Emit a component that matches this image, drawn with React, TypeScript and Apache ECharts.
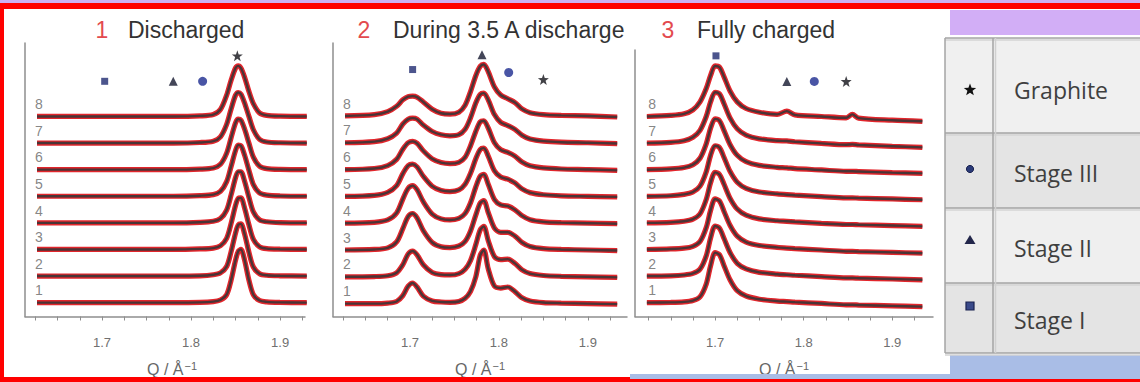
import React, { useEffect, useRef } from "react";
import * as echarts from "echarts";

const CURVE_NAMES = ["1", "2", "3", "4", "5", "6", "7", "8"];
const PANEL_NUMBERS = ["1", "2", "3"];
const PANEL_TITLES = ["Discharged", "During 3.5 A discharge", "Fully charged"];
const X_LABELS = [1.7, 1.8, 1.9];
const X_TICKS = [1.625, 1.65, 1.675, 1.7, 1.725, 1.75, 1.775, 1.8, 1.825, 1.85, 1.875, 1.9, 1.925];
const LEGEND_NAMES = ["Graphite", "Stage III", "Stage II", "Stage I"];
const MARK_KINDS = ["Stage I", "Stage II", "Stage III", "Graphite"];

// Panel 1: Discharged
const P1_Q = [1.627, 1.7, 1.78, 1.81, 1.825, 1.833, 1.84, 1.845, 1.85, 1.853, 1.856, 1.86, 1.865, 1.87, 1.877, 1.885, 1.9, 1.93];
const P1_I = [
  [0, 0, 0, 0.01, 0.04, 0.1, 0.3, 0.85, 1.6, 1.93, 2.0, 1.62, 0.85, 0.3, 0.08, 0.03, 0.01, 0],
  [0, 0, 0, 0.01, 0.05, 0.12, 0.36, 0.92, 1.62, 1.92, 1.96, 1.6, 0.9, 0.34, 0.09, 0.03, 0.01, 0],
  [0, 0, 0, 0.02, 0.05, 0.14, 0.42, 0.98, 1.66, 1.92, 1.94, 1.58, 0.93, 0.38, 0.1, 0.03, 0.01, 0],
  [0, 0, 0, 0.02, 0.06, 0.16, 0.48, 1.05, 1.7, 1.92, 1.92, 1.58, 0.96, 0.41, 0.11, 0.04, 0.01, 0],
  [0, 0, 0, 0.02, 0.06, 0.18, 0.55, 1.12, 1.72, 1.92, 1.9, 1.56, 0.98, 0.44, 0.12, 0.04, 0.01, 0],
  [0, 0, 0, 0.02, 0.06, 0.2, 0.62, 1.2, 1.76, 1.9, 1.86, 1.54, 1.0, 0.47, 0.13, 0.04, 0.01, 0],
  [0, 0, 0, 0.02, 0.07, 0.23, 0.7, 1.28, 1.8, 1.9, 1.84, 1.52, 1.0, 0.5, 0.14, 0.04, 0.01, 0],
  [0, 0, 0, 0.02, 0.07, 0.26, 0.8, 1.36, 1.82, 1.9, 1.82, 1.49, 0.94, 0.48, 0.13, 0.04, 0.01, 0],
];
const P1_MARKS = [[1.703, 8.32], [1.78, 8.32], [1.813, 8.32], [1.852, 9.28]];

// Panel 2: During 3.5 A discharge
const P2_Q = [1.627, 1.66, 1.675, 1.685, 1.692, 1.698, 1.703, 1.708, 1.715, 1.725, 1.735, 1.745, 1.755, 1.762, 1.768, 1.774, 1.779, 1.783, 1.788, 1.795, 1.802, 1.81, 1.818, 1.826, 1.835, 1.85, 1.87, 1.9, 1.933];
const P2_I = [
  [0, 0, 0.02, 0.08, 0.3, 0.65, 0.77, 0.62, 0.28, 0.1, 0.06, 0.05, 0.08, 0.2, 0.45, 1.0, 1.8, 2.0, 1.3, 0.65, 0.58, 0.62, 0.45, 0.22, 0.1, 0.04, 0.02, 0, -0.02],
  [0, 0.01, 0.04, 0.15, 0.45, 0.85, 0.96, 0.82, 0.45, 0.16, 0.08, 0.07, 0.12, 0.28, 0.6, 1.2, 1.75, 1.88, 1.35, 0.75, 0.64, 0.66, 0.5, 0.26, 0.12, 0.05, 0.02, 0, -0.02],
  [0, 0.02, 0.08, 0.3, 0.8, 1.25, 1.36, 1.2, 0.72, 0.28, 0.12, 0.09, 0.15, 0.32, 0.7, 1.3, 1.75, 1.84, 1.4, 0.82, 0.66, 0.66, 0.52, 0.28, 0.13, 0.05, 0.02, 0, -0.02],
  [0, 0.03, 0.12, 0.38, 0.9, 1.3, 1.4, 1.25, 0.8, 0.34, 0.16, 0.12, 0.18, 0.36, 0.75, 1.35, 1.75, 1.82, 1.45, 0.88, 0.68, 0.64, 0.5, 0.28, 0.13, 0.05, 0.02, 0, -0.02],
  [0, 0.04, 0.15, 0.4, 0.85, 1.15, 1.2, 1.1, 0.75, 0.38, 0.22, 0.18, 0.24, 0.45, 0.85, 1.4, 1.75, 1.8, 1.5, 0.95, 0.72, 0.64, 0.5, 0.28, 0.14, 0.06, 0.02, 0, -0.02],
  [0, 0.04, 0.15, 0.38, 0.76, 1.0, 1.05, 0.98, 0.7, 0.4, 0.26, 0.22, 0.27, 0.46, 0.88, 1.42, 1.78, 1.82, 1.55, 1.0, 0.74, 0.64, 0.5, 0.28, 0.14, 0.06, 0.02, 0, -0.03],
  [0, 0.04, 0.15, 0.36, 0.7, 0.88, 0.92, 0.88, 0.66, 0.42, 0.3, 0.26, 0.3, 0.5, 0.92, 1.48, 1.8, 1.85, 1.6, 1.05, 0.76, 0.64, 0.5, 0.28, 0.14, 0.06, 0.02, 0, -0.03],
  [0, 0.05, 0.16, 0.36, 0.6, 0.72, 0.74, 0.7, 0.52, 0.25, 0.1, 0.07, 0.14, 0.4, 0.9, 1.5, 1.85, 1.92, 1.65, 1.08, 0.78, 0.64, 0.5, 0.26, 0.12, 0.05, 0.02, 0, -0.04],
];
const P2_MARKS = [[1.703, 8.73], [1.781, 9.28], [1.811, 8.62], [1.85, 8.36]];

// Panel 3: Fully charged
const P3_Q = [1.623, 1.65, 1.665, 1.675, 1.683, 1.69, 1.695, 1.7, 1.705, 1.71, 1.717, 1.725, 1.735, 1.75, 1.77, 1.781, 1.79, 1.82, 1.848, 1.855, 1.862, 1.9, 1.934];
const P3_I = [
  [0, 0.01, 0.03, 0.08, 0.22, 0.7, 1.4, 1.88, 1.8, 1.4, 0.85, 0.45, 0.25, 0.13, 0.06, 0.04, 0.02, -0.03, -0.08, -0.08, -0.09, -0.12, -0.15],
  [0, 0.01, 0.04, 0.1, 0.26, 0.76, 1.44, 1.88, 1.8, 1.42, 0.88, 0.48, 0.27, 0.14, 0.07, 0.05, 0.03, -0.02, -0.07, -0.07, -0.08, -0.11, -0.14],
  [0, 0.02, 0.05, 0.12, 0.3, 0.82, 1.48, 1.9, 1.82, 1.44, 0.9, 0.5, 0.28, 0.15, 0.08, 0.05, 0.03, -0.02, -0.07, -0.07, -0.08, -0.11, -0.14],
  [0, 0.02, 0.06, 0.14, 0.34, 0.88, 1.52, 1.9, 1.82, 1.46, 0.92, 0.52, 0.29, 0.15, 0.08, 0.06, 0.04, -0.02, -0.06, -0.06, -0.07, -0.1, -0.13],
  [0, 0.02, 0.07, 0.16, 0.38, 0.92, 1.55, 1.9, 1.83, 1.47, 0.93, 0.53, 0.3, 0.16, 0.09, 0.06, 0.04, -0.01, -0.06, -0.06, -0.07, -0.1, -0.13],
  [0, 0.03, 0.08, 0.19, 0.43, 0.97, 1.57, 1.91, 1.84, 1.48, 0.94, 0.54, 0.3, 0.16, 0.09, 0.07, 0.04, -0.01, -0.06, -0.06, -0.07, -0.11, -0.14],
  [0, 0.03, 0.09, 0.22, 0.48, 1.0, 1.56, 1.91, 1.85, 1.49, 0.94, 0.54, 0.3, 0.16, 0.09, 0.08, 0.05, -0.01, -0.06, -0.05, -0.07, -0.12, -0.16],
  [0, 0.04, 0.1, 0.25, 0.55, 1.05, 1.55, 1.9, 1.85, 1.5, 0.95, 0.55, 0.3, 0.16, 0.08, 0.2, 0.06, 0, -0.05, 0.08, -0.06, -0.14, -0.18],
];
const P3_MARKS = [[1.701, 9.28], [1.781, 8.32], [1.812, 8.32], [1.848, 8.32]];

const LABEL_Q = 1.629;
const LABEL_LIFT = 0.46;

const STAR_PATH =
  "path://M0,-10L2.35,-3.24L9.51,-3.09L3.8,1.24L5.88,8.09L0,4L-5.88,8.09L-3.8,1.24L-9.51,-3.09L-2.35,-3.24Z";
const MARK_STYLE: Record<string, { symbol: string; size: number; color: string }> = {
  "Stage I": { symbol: "rect", size: 7, color: "#1f2a70" },
  "Stage II": { symbol: "triangle", size: 9, color: "#14182e" },
  "Stage III": { symbol: "circle", size: 9, color: "#1b2a8e" },
  Graphite: { symbol: STAR_PATH, size: 11, color: "#121218" },
};

const PANELS = [
  { q: P1_Q, rows: P1_I, marks: P1_MARKS, grid: { left: 25, top: 43, width: 280, height: 279 }, xr: [1.6135, 1.928], yr: [-0.52, 9.76], namePad: 14 },
  { q: P2_Q, rows: P2_I, marks: P2_MARKS, grid: { left: 333, top: 43, width: 294, height: 277 }, xr: [1.6135, 1.944], yr: [-0.48, 9.72], namePad: 0 },
  { q: P3_Q, rows: P3_I, marks: P3_MARKS, grid: { left: 635, top: 50, width: 298, height: 272 }, xr: [1.6096, 1.946], yr: [-0.52, 9.5], namePad: 0 },
];
const TITLE_POS = [
  { num: 102, text: 128 },
  { num: 364, text: 393 },
  { num: 668, text: 697 },
];

function starPoints(cx: number, cy: number, ro: number, ri: number) {
  const pts: number[][] = [];
  for (let i = 0; i < 10; i++) {
    const a = (-90 + i * 36) * (Math.PI / 180);
    const r = i % 2 === 0 ? ro : ri;
    pts.push([cx + r * Math.cos(a), cy + r * Math.sin(a)]);
  }
  return pts;
}

export default function App() {
  const ref = useRef<HTMLDivElement>(null);
  useEffect(() => {
    if (!ref.current) return;
    const chart = echarts.init(ref.current, undefined, { renderer: "svg" });
    const axisGray = "#8e8e8e";
    const font = "Liberation Sans";

    const grids = PANELS.map((p) => ({ ...p.grid, containLabel: false }));
    const xAxes = PANELS.map((p, i) => ({
      type: "value",
      gridIndex: i,
      min: p.xr[0],
      max: p.xr[1],
      axisLine: { show: true, onZero: false, lineStyle: { color: axisGray, width: 1.5 } },
      axisTick: { show: true, customValues: X_TICKS, length: 4, lineStyle: { color: axisGray, width: 1 } },
      axisLabel: {
        show: true,
        customValues: X_LABELS,
        formatter: (v: number) => v.toFixed(1),
        color: "#707070",
        fontSize: 13,
        fontFamily: font,
        margin: 19,
      },
      splitLine: { show: false },
      name: "Q / Å{s|−1}",
      nameLocation: "middle",
      nameGap: 44,
      nameTextStyle: {
        color: "#666",
        fontSize: 16,
        fontFamily: font,
        padding: [0, 0, 0, p.namePad],
        rich: { s: { fontSize: 11, color: "#666", fontFamily: font, verticalAlign: "top", padding: [0, 0, 6, 1] } },
      },
    }));
    const yAxes = PANELS.map((p, i) => ({
      type: "value",
      gridIndex: i,
      min: p.yr[0],
      max: p.yr[1],
      axisLine: { show: true, onZero: false, lineStyle: { color: axisGray, width: 1.5 } },
      axisTick: { show: false },
      axisLabel: { show: false },
      splitLine: { show: false },
    }));

    const series: any[] = [];
    PANELS.forEach((p, pi) => {
      p.rows.forEach((row, k) => {
        const data = p.q.map((q, j) => [q, row[j] + k]);
        series.push({
          type: "line",
          name: `P${pi + 1}-${CURVE_NAMES[k]}-fit`,
          xAxisIndex: pi,
          yAxisIndex: pi,
          data,
          showSymbol: false,
          smooth: 0.3,
          silent: true,
          lineStyle: { color: "#e2262c", width: 5.2 },
          z: 2,
        });
        series.push({
          type: "line",
          name: `P${pi + 1}-${CURVE_NAMES[k]}-data`,
          xAxisIndex: pi,
          yAxisIndex: pi,
          data,
          showSymbol: false,
          smooth: 0.3,
          silent: true,
          lineStyle: { color: "#4a3436", width: 2.4 },
          z: 3,
        });
      });
      series.push({
        type: "scatter",
        name: `P${pi + 1}-labels`,
        xAxisIndex: pi,
        yAxisIndex: pi,
        symbolSize: 1,
        itemStyle: { color: "rgba(0,0,0,0)" },
        silent: true,
        data: CURVE_NAMES.map((n, k) => ({ name: n, value: [LABEL_Q, k + LABEL_LIFT] })),
        label: {
          show: true,
          position: "inside",
          formatter: (d: any) => d.name,
          color: "#666666",
          fontSize: 14,
          fontFamily: font,
        },
        z: 5,
      });
      series.push({
        type: "scatter",
        name: `P${pi + 1}-markers`,
        xAxisIndex: pi,
        yAxisIndex: pi,
        silent: true,
        data: p.marks.map((m, j) => {
          const st = MARK_STYLE[MARK_KINDS[j]];
          return { name: MARK_KINDS[j], value: m, symbol: st.symbol, symbolSize: st.size, itemStyle: { color: st.color } };
        }),
        z: 6,
      });
    });

    const graphics: any[] = [];
    graphics.push({ type: "rect", shape: { x: 0, y: 0, width: 1140, height: 3 }, style: { fill: "#cdb0f3" }, z: 100 });
    graphics.push({ type: "rect", shape: { x: 0, y: 3, width: 1140, height: 6 }, style: { fill: "#ff0000" }, z: 100 });
    graphics.push({ type: "rect", shape: { x: 0, y: 3, width: 4, height: 379 }, style: { fill: "#ff0000" }, z: 100 });
    graphics.push({ type: "rect", shape: { x: 950, y: 10, width: 190, height: 25 }, style: { fill: "#d2aef6" }, z: 100 });
    graphics.push({ type: "rect", shape: { x: 950, y: 355, width: 190, height: 24 }, style: { fill: "#a9bde6" }, z: 100 });
    graphics.push({ type: "rect", shape: { x: 630, y: 374, width: 320, height: 5 }, style: { fill: "#a9bde6" }, z: 100 });
    graphics.push({ type: "rect", shape: { x: 0, y: 377, width: 630, height: 5 }, style: { fill: "#ff0000" }, z: 100 });
    graphics.push({ type: "rect", shape: { x: 630, y: 379, width: 510, height: 3 }, style: { fill: "#ff0000" }, z: 100 });

    PANEL_TITLES.forEach((t, i) => {
      graphics.push({
        type: "text",
        x: TITLE_POS[i].num,
        y: 30,
        style: { text: PANEL_NUMBERS[i], fill: "#e34a4e", fontSize: 23, fontFamily: font, align: "center", verticalAlign: "middle", textAlign: "center", textVerticalAlign: "middle" },
        z: 100,
      });
      graphics.push({
        type: "text",
        x: TITLE_POS[i].text,
        y: 30,
        style: { text: t, fill: "#333333", fontSize: 23, fontFamily: font, align: "left", verticalAlign: "middle", textAlign: "left", textVerticalAlign: "middle" },
        z: 100,
      });
    });

    const rowsY = [38, 133, 208, 283, 353];
    const rowFill = ["#f0f0f0", "#e4e4e4", "#efefef", "#e4e4e4"];
    const symY = [90, 169, 240, 306];
    const textY = [90, 173, 248, 320];
    for (let r = 0; r < 4; r++) {
      graphics.push({
        type: "rect",
        shape: { x: 945, y: rowsY[r], width: 195, height: rowsY[r + 1] - rowsY[r] },
        style: { fill: rowFill[r] },
        z: 100,
      });
    }
    for (let r = 0; r < 5; r++) {
      graphics.push({ type: "line", shape: { x1: 945, y1: rowsY[r], x2: 1140, y2: rowsY[r] }, style: { stroke: "#a4a4a4", lineWidth: 1.5 }, z: 101 });
      graphics.push({ type: "line", shape: { x1: 945, y1: rowsY[r] + 2, x2: 1140, y2: rowsY[r] + 2 }, style: { stroke: "#d4d4d4", lineWidth: 1.5 }, z: 101 });
    }
    graphics.push({ type: "line", shape: { x1: 945, y1: 38, x2: 945, y2: 353 }, style: { stroke: "#a4a4a4", lineWidth: 1.5 }, z: 101 });
    graphics.push({ type: "line", shape: { x1: 993, y1: 38, x2: 993, y2: 353 }, style: { stroke: "#a4a4a4", lineWidth: 1.5 }, z: 101 });
    graphics.push({ type: "line", shape: { x1: 995.5, y1: 38, x2: 995.5, y2: 353 }, style: { stroke: "#d0d0d0", lineWidth: 1.5 }, z: 101 });
    LEGEND_NAMES.forEach((n, r) => {
      graphics.push({
        type: "text",
        x: 1014,
        y: textY[r],
        style: { text: n, fill: "#3f3f3f", fontSize: 23, fontFamily: "Open Sans", align: "left", verticalAlign: "middle", textAlign: "left", textVerticalAlign: "middle" },
        z: 102,
      });
    });
    graphics.push({ type: "polygon", shape: { points: starPoints(970, symY[0], 6.5, 2.7) }, style: { fill: "#111111" }, z: 102 });
    graphics.push({ type: "circle", shape: { cx: 970, cy: symY[1], r: 3.6 }, style: { fill: "#2a3a78", stroke: "#1a2250", lineWidth: 1 }, z: 102 });
    graphics.push({ type: "polygon", shape: { points: [[970, symY[2] - 5], [975.5, symY[2] + 4], [964.5, symY[2] + 4]] }, style: { fill: "#22264a" }, z: 102 });
    graphics.push({ type: "rect", shape: { x: 966, y: symY[3] - 4, width: 8, height: 8 }, style: { fill: "#3a4a8a", stroke: "#1a2250", lineWidth: 1.2 }, z: 102 });

    chart.setOption({
      animation: false,
      backgroundColor: "#ffffff",
      grid: grids,
      xAxis: xAxes,
      yAxis: yAxes,
      series,
      graphic: { elements: graphics },
    });
    return () => chart.dispose();
  }, []);
  return <div ref={ref} style={{ position: "fixed", left: 0, top: 0, width: 1140, height: 382 }} />;
}
